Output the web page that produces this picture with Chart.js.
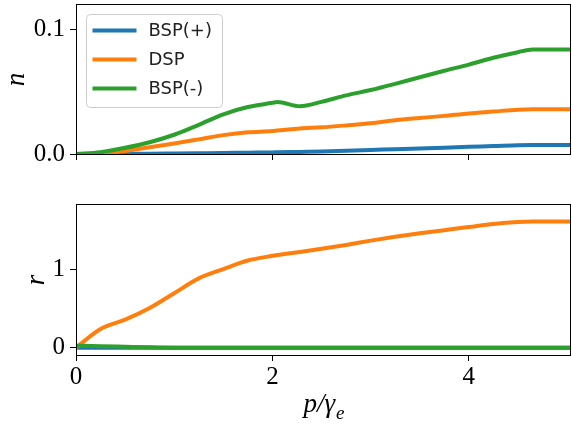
<!DOCTYPE html>
<html>
<head>
<meta charset="utf-8">
<script src="https://cdn.jsdelivr.net/npm/chart.js@4.4.1/dist/chart.umd.min.js"></script>
<style>
  html, body { margin: 0; padding: 0; background: #fff; }
  #wrap { position: relative; width: 572px; height: 424px; }
  canvas { position: absolute; left: 0; }
  #top { top: 0; }
  #bottom { top: 190px; }
</style>
</head>
<body>
<div id="wrap">
  <canvas id="top" width="572" height="170"></canvas>
  <canvas id="bottom" width="572" height="234"></canvas>
</div>
<script>
// p / gamma_e sample points
const xs = [0, 0.25, 0.5, 0.75, 1.0, 1.25, 1.5, 1.75, 2.0, 2.05, 2.28, 2.5, 2.75, 3.0, 3.25, 3.5, 3.75, 4.0, 4.25, 4.5, 4.65, 5.04];

// top panel: n
const nBspPlus  = [0, 0, 0.0001, 0.0002, 0.0004, 0.0006, 0.0008, 0.0011, 0.0013, 0.0014, 0.0017, 0.002, 0.0026, 0.0032, 0.0039, 0.0045, 0.0051, 0.0058, 0.0064, 0.0071, 0.0072, 0.0072];
const nDsp      = [0, 0.0003, 0.0025, 0.0055, 0.0085, 0.0118, 0.0152, 0.0175, 0.0185, 0.019, 0.0206, 0.0215, 0.023, 0.0247, 0.0272, 0.029, 0.0307, 0.0327, 0.0342, 0.0357, 0.036, 0.036];
const nBspMinus = [0, 0.0015, 0.005, 0.0095, 0.0155, 0.0235, 0.032, 0.0378, 0.0412, 0.0419, 0.0385, 0.042, 0.0472, 0.0515, 0.0565, 0.0618, 0.067, 0.072, 0.0775, 0.082, 0.0842, 0.0842];

// bottom panel: r
const rBspPlus  = [0, 0, 0, 0, 0, 0, 0, 0, 0, 0, 0, 0, 0, 0, 0, 0, 0, 0, 0, 0, 0, 0];
const rDsp      = [0, 0.24, 0.36, 0.51, 0.70, 0.89, 1.01, 1.12, 1.18, 1.19, 1.23, 1.27, 1.32, 1.375, 1.425, 1.47, 1.51, 1.55, 1.59, 1.615, 1.62, 1.62];
const rBspMinus = [0.025, 0.02, 0.012, 0.004, 0, 0, 0, 0, 0, 0, 0, 0, 0, 0, 0, 0, 0, 0, 0, 0, 0, 0];

const seriesLabels = ['BSP(+)', 'DSP', 'BSP(-)'];
const colors = ['#1f77b4', '#ff7f0e', '#2ca02c'];

const xTicks = [0, 2, 4];
const nTicks = [0, 0.1];
const rTicks = [0, 1];

const SERIF = '"Liberation Serif", "DejaVu Serif", serif';
const pts = arr => xs.map((x, i) => ({x: x, y: arr[i]}));

function makeDatasets(lists) {
  return lists.map((arr, i) => ({
    label: seriesLabels[i],
    data: pts(arr),
    borderColor: colors[i],
    backgroundColor: colors[i],
    borderWidth: 4,
    pointRadius: 0,
    cubicInterpolationMode: 'monotone',
    clip: 0,
    order: lists.length - i   // later series drawn on top, as in matplotlib
  }));
}

// box around the plot area, like matplotlib spines
const frame = {
  id: 'frame',
  afterDatasetsDraw(chart) {
    const a = chart.chartArea;
    const l = Math.round(a.left), r = Math.round(a.right);
    const t = Math.round(a.top), b = Math.round(a.bottom);
    const ctx = chart.ctx;
    ctx.save();
    ctx.strokeStyle = '#000';
    ctx.lineWidth = 1;
    ctx.strokeRect(l + 0.5, t - 0.5, r - l - 1, b - t + 1);
    ctx.restore();
  }
};

// matplotlib style legend box in the upper left
const legendBox = {
  id: 'legendBox',
  afterDraw(chart) {
    const ctx = chart.ctx;
    const a = chart.chartArea;
    const x0 = a.left + 10.5, y0 = a.top + 9.5;
    ctx.save();
    ctx.beginPath();
    ctx.roundRect(x0, y0, 136, 93, 4);
    ctx.fillStyle = 'rgba(255,255,255,0.8)';
    ctx.fill();
    ctx.strokeStyle = '#cccccc';
    ctx.lineWidth = 1;
    ctx.stroke();
    ctx.font = '18px "DejaVu Sans"';
    ctx.textBaseline = 'middle';
    chart.data.datasets.forEach((ds, i) => {
      const y = y0 + 16 + i * 29;
      ctx.strokeStyle = ds.borderColor;
      ctx.lineWidth = 4;
      ctx.beginPath();
      ctx.moveTo(x0 + 6, y);
      ctx.lineTo(x0 + 50, y);
      ctx.stroke();
      ctx.fillStyle = '#222';
      ctx.fillText(ds.label, x0 + 62, y + 1);
    });
    ctx.restore();
  }
};

// x label with subscript: p/gamma_e
const xLabel = {
  id: 'xLabel',
  afterDraw(chart) {
    const ctx = chart.ctx;
    const a = chart.chartArea;
    const main = 'p/γ', sub = 'e';
    ctx.save();
    ctx.fillStyle = '#000';
    ctx.textBaseline = 'alphabetic';
    ctx.font = 'italic 27px ' + SERIF;
    const w1 = ctx.measureText(main).width;
    ctx.font = 'italic 19px ' + SERIF;
    const w2 = ctx.measureText(sub).width;
    const x = (a.left + a.right) / 2 - (w1 + w2) / 2;
    ctx.font = 'italic 27px ' + SERIF;
    ctx.fillText(main, x, 222);
    ctx.font = 'italic 19px ' + SERIF;
    ctx.fillText(sub, x + w1 + 1, 229);
    ctx.restore();
  }
};

function xScale(showLabels, height) {
  return {
    type: 'linear',
    min: 0,
    max: 5.04,
    afterBuildTicks: s => { s.ticks = xTicks.map(v => ({value: v})); },
    afterFit: s => { s.height = height; s.paddingLeft = 0; s.paddingRight = 0; },
    ticks: {
      color: '#000',
      font: {family: SERIF, size: 25},
      padding: 1,
      maxRotation: 0,
      callback: v => showLabels ? String(v) : ''
    },
    grid: {drawOnChartArea: false, drawTicks: true, tickLength: 6, tickColor: '#000', tickWidth: 1},
    border: {display: false}
  };
}

function yScale(min, max, ticks, fmt, title, titlePad) {
  return {
    min: min,
    max: max,
    afterBuildTicks: s => { s.ticks = ticks.map(v => ({value: v})); },
    afterFit: s => { s.width = 76; s.paddingTop = 0; s.paddingBottom = 0; },
    ticks: {
      color: '#000',
      font: {family: SERIF, size: 25},
      padding: 5,
      callback: fmt
    },
    grid: {drawOnChartArea: false, drawTicks: true, tickLength: 6, tickColor: '#000', tickWidth: 1},
    border: {display: false},
    title: {
      display: true,
      text: title,
      color: '#000',
      font: {family: SERIF, size: 27, style: 'italic', lineHeight: 1},
      padding: {top: titlePad, bottom: 0}
    }
  };
}

Chart.defaults.animation = false;

new Chart(document.getElementById('top'), {
  type: 'line',
  data: {datasets: makeDatasets([nBspPlus, nDsp, nBspMinus])},
  options: {
    responsive: false,
    devicePixelRatio: 1,
    layout: {padding: {left: 0, right: 1, top: 5, bottom: 0}},
    plugins: {legend: {display: false}, tooltip: {enabled: false}},
    scales: {
      x: xScale(false, 16),
      y: yScale(0, 0.12, nTicks, v => v.toFixed(1), 'n', 3)
    }
  },
  plugins: [frame, legendBox]
});

new Chart(document.getElementById('bottom'), {
  type: 'line',
  data: {datasets: makeDatasets([rBspPlus, rDsp, rBspMinus])},
  options: {
    responsive: false,
    devicePixelRatio: 1,
    layout: {padding: {left: 0, right: 1, top: 15, bottom: 0}},
    plugins: {legend: {display: false}, tooltip: {enabled: false}},
    scales: {
      x: xScale(true, 69),
      y: yScale(-0.094, 1.833, rTicks, v => String(v), 'r', 23)
    }
  },
  plugins: [frame, xLabel]
});
</script>
</body>
</html>
